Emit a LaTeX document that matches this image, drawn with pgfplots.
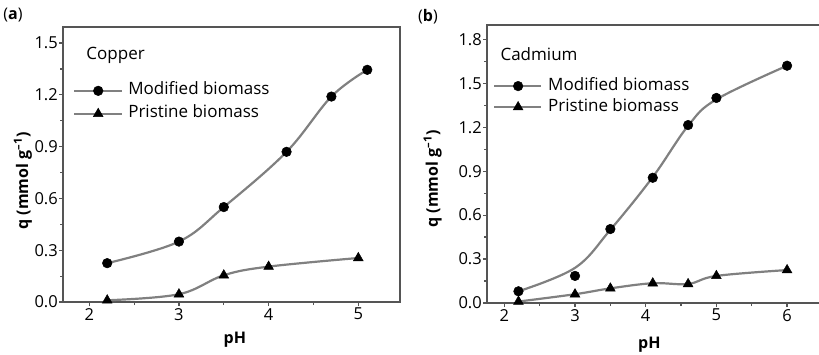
\documentclass[border=0pt]{standalone}
\usepackage{fontspec}
\setmainfont{Open Sans}
\usepackage{pgfplots}
\pgfplotsset{compat=1.18}
\definecolor{linegray}{RGB}{128,128,128}
\definecolor{framegray}{RGB}{85,85,85}
\pgfplotsset{
  mystyle/.style={
    scale only axis,
    anchor=south west,
    axis line style={draw=framegray, line width=2.4pt},
    tick align=outside,
    xtick pos=bottom, ytick pos=left,
    major tick length=4pt, minor tick length=3pt,
    every tick/.style={draw=framegray, line width=1.2pt},
    minor x tick num=1, minor y tick num=1,
    /pgf/number format/assume math mode=true,
    tick label style={font=\fontsize{16.5}{19}\selectfont},
    yticklabel style={inner sep=1pt, /pgf/number format/.cd, fixed, fixed zerofill, precision=1},
    xticklabel style={inner sep=2pt, /pgf/number format/.cd, fixed, precision=0},
    label style={font=\bfseries\fontsize{16}{19}\selectfont},
    legend cell align=left,
    legend style={draw=none, fill=none, inner sep=0pt, outer sep=0pt,
      column sep=6pt, font=\fontsize{17}{20}\selectfont,
      nodes={inner sep=0pt, text height=12pt, text depth=4pt}},
    legend image code/.code={
      \draw[mark repeat=2, mark phase=2, #1] plot coordinates {(0pt,0pt) (24pt,0pt) (47pt,0pt)};
    },
    every axis plot/.append style={line width=2.2pt, draw=linegray},
  },
  circ/.style={mark=*, mark size=4.8pt, mark options={fill=black, draw=black, line width=0.5pt}},
  tri/.style={mark=triangle*, mark size=5.6pt, mark options={fill=black, draw=black, line width=0.5pt}},
}
\begin{document}
\begin{tikzpicture}
\useasboundingbox (0,0) rectangle (819pt,354pt);
\node[anchor=center, font=\fontsize{16}{19}\selectfont] at (13pt,339pt) {(\textbf{a})};
\node[anchor=center, font=\fontsize{16}{19}\selectfont] at (428pt,337pt) {(\textbf{b})};
% Panel (a)
\begin{axis}[mystyle,
  at={(63pt,52pt)}, width=337pt, height=275pt,
  xmin=1.707, xmax=5.465, ymin=0, ymax=1.593,
  xtick={2,3,4,5}, ytick={0,0.3,0.6,0.9,1.2,1.5},
  xlabel={pH}, ylabel={q (mmol g\textsuperscript{–1})},
  xlabel style={at={(axis description cs:0.51,-0.138)}, anchor=center},
  ylabel style={at={(axis description cs:-0.119,0.44)}, anchor=center},
  legend style={at={(axis description cs:0.03,0.797)}, anchor=north west,
    row sep=7pt},
]
\addplot[smooth, tension=0.6, circ] coordinates {(2.2,0.225) (3,0.35) (3.5,0.55) (4.2,0.87) (4.7,1.19) (5.1,1.345)};
\addlegendentry{Modified biomass}
\addplot[smooth, tension=0.6, tri] coordinates {(2.2,0.01) (3,0.045) (3.5,0.155) (4,0.205) (5,0.255)};
\addlegendentry{Pristine biomass}
\node[anchor=west, font=\fontsize{17}{20}\selectfont] at (axis description cs:0.059,0.898) {Copper};
\end{axis}
% Panel (b)
\begin{axis}[mystyle,
  at={(487pt,51pt)}, width=334pt, height=278pt,
  xmin=1.755, xmax=6.48, ymin=0, ymax=1.898,
  xtick={2,3,4,5,6}, ytick={0,0.3,0.6,0.9,1.2,1.5,1.8},
  xlabel={pH}, ylabel={q (mmol g\textsuperscript{–1})},
  xlabel style={at={(axis description cs:0.486,-0.151)}, anchor=center},
  ylabel style={at={(axis description cs:-0.163,0.446)}, anchor=center},
  legend style={at={(axis description cs:0.018,0.809)}, anchor=north west,
    row sep=5pt},
]
\addplot[smooth, tension=0.6, forget plot] coordinates {(2.2,0.08) (3,0.24) (3.5,0.5) (4.1,0.86) (4.6,1.21) (5,1.39) (6,1.62)};
\addplot[only marks, circ, forget plot] coordinates {(2.2,0.08) (3,0.185) (3.5,0.505) (4.1,0.855) (4.6,1.215) (5,1.4) (6,1.62)};
\addlegendimage{circ}
\addlegendentry{Modified biomass}
\addplot[smooth, tension=0.6, tri] coordinates {(2.2,0.01) (3,0.06) (3.5,0.1) (4.1,0.135) (4.6,0.13) (5,0.185) (6,0.225)};
\addlegendentry{Pristine biomass}
\node[anchor=west, font=\fontsize{17}{20}\selectfont] at (axis description cs:0.030,0.896) {Cadmium};
\end{axis}
\end{tikzpicture}
\end{document}
